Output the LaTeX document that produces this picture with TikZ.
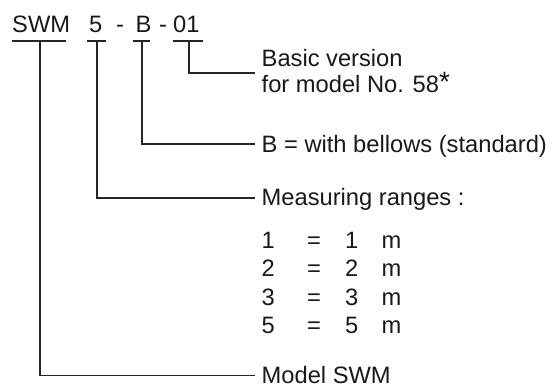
\documentclass[tikz,border=0pt]{standalone}
\usepackage{fontspec}
\setmainfont{Liberation Sans}
\begin{document}
\begin{tikzpicture}[x=1pt,y=-1pt,
  lbl/.style={anchor=base west, inner sep=0pt, text=black!90, font=\fontsize{23.7}{26}\selectfont},
  ln/.style={line width=1.1pt, draw=black!85}]
\useasboundingbox[fill=white] (0,0) rectangle (552,385);
% header code
\node[lbl] (swm) at (12,33) {SWM};
\node[lbl] (five) at (89,33) {5};
\node[lbl] (d1) at (116,33) {-};
\node[lbl] (bb) at (135.5,33) {B};
\node[lbl] (d2) at (159,33) {-};
\node[lbl] (zo) at (173,33) {01};
% underline tap points
\coordinate (tS) at (40,41);
\coordinate (t5) at (97,41);
\coordinate (tB) at (142,41);
\coordinate (t0) at (189,41);
\draw[ln] (12,41) -- (66,41);
\draw[ln] (87,41) -- (106,41);
\draw[ln] (133,41) -- (150,41);
\draw[ln] (173,41) -- (203,41);
% labels
\node[lbl] (basic1) at (261.5,67) {Basic version};
\node[lbl] (basic2) at (261.5,93) {for model No. 58{\fontsize{28}{28}\selectfont\raisebox{1pt}{*}}};
\node[lbl] (bel) at (261.5,153) {B = with bellows (standard)};
\node[lbl] (meas) at (261.5,205) {Measuring ranges :};
\foreach \k/\v/\yy in {1/1/248, 2/2/276.5, 3/3/305, 5/5/333.5}{
  \node[lbl] (r\k a) at (261.5,\yy) {\k};
  \node[lbl] (r\k b) at (307,\yy) {=};
  \node[lbl] (r\k c) at (345,\yy) {\v};
  \node[lbl] (r\k d) at (381.5,\yy) {m};
}
\node[lbl] (model) at (261.5,383) {Model SWM};
% line ends
\coordinate (e0) at (255,73);
\coordinate (eB) at (255,144);
\coordinate (e5) at (255,198);
\coordinate (eS) at (255,375.5);
\draw[ln] (t0) |- (e0);
\draw[ln] (tB) |- (eB);
\draw[ln] (t5) |- (e5);
\draw[ln] (tS) |- (eS);
\end{tikzpicture}
\end{document}
